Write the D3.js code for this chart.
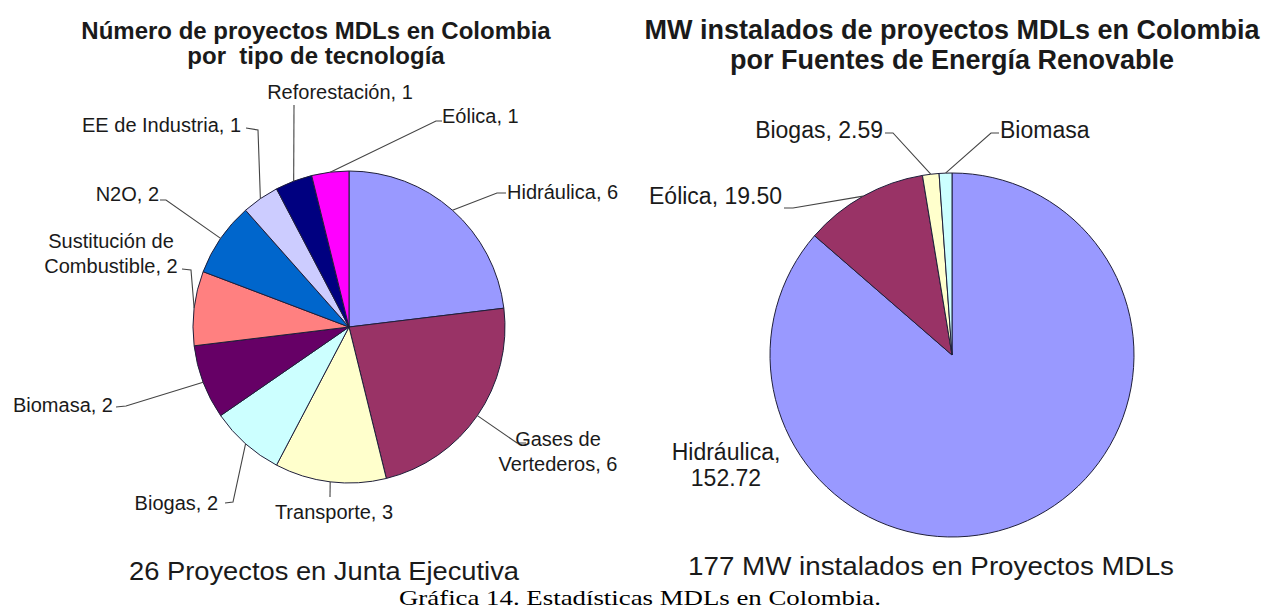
<!DOCTYPE html>
<html>
<head>
<meta charset="utf-8">
<script src="https://cdn.jsdelivr.net/npm/d3@7"></script>
<style>
  body { margin: 0; background: #fff; }
  svg { display: block; }
  text { font-family: "Liberation Sans", Arial, sans-serif; fill: #1a1a1a; white-space: pre; }
</style>
</head>
<body>
<svg id="chart" width="1279" height="609"></svg>
<script>
// Left chart: number of projects per technology
const projCategories = ["Hidráulica", "Gases de Vertederos", "Transporte", "Biogas", "Biomasa",
  "Sustitución de Combustible", "N2O", "EE de Industria", "Reforestación", "Eólica"];
const projValues = [6, 6, 3, 2, 2, 2, 2, 1, 1, 1];
const projColors = ["#9999ff", "#993366", "#ffffcc", "#ccffff", "#660066",
  "#ff8080", "#0066cc", "#ccccff", "#000080", "#ff00ff"];

// Right chart: installed MW by renewable source
const mwCategories = ["Hidráulica", "Eólica", "Biogas", "Biomasa"];
const mwValues = [152.72, 19.50, 2.59, 2.0]; // Biomasa has no printed value, estimated
const mwColors = ["#9999ff", "#993366", "#ffffcc", "#ccffff"];

const projLabels = [["Hidráulica, 6"], ["Gases de", "Vertederos, 6"], ["Transporte, 3"], ["Biogas, 2"],
  ["Biomasa, 2"], ["Sustitución de", "Combustible, 2"], ["N2O, 2"], ["EE de Industria, 1"],
  ["Reforestación, 1"], ["Eólica, 1"]];
const mwLabels = [["Hidráulica,", "152.72"], ["Eólica, 19.50"], ["Biogas, 2.59"], ["Biomasa"]];

const svg = d3.select("#chart");

// label placement (text position + leader knee/end), same order as categories
const projLayout = [
  { x: 507, y: 199, anchor: "start", knee: [497, 193], end: [506, 193] },
  { x: 558, y: 446, anchor: "middle", knee: [517, 443], end: [526, 443] },
  { x: 334, y: 519, anchor: "middle", knee: [330, 497], end: [330, 497] },
  { x: 218, y: 510, anchor: "end", knee: [233, 502], end: [225, 503] },
  { x: 113, y: 412, anchor: "end", knee: [126, 406], end: [116, 407] },
  { x: 111, y: 248, anchor: "middle", knee: [191, 270], end: [182, 269] },
  { x: 159, y: 201, anchor: "end", knee: [166, 200], end: [160, 200] },
  { x: 241, y: 132, anchor: "end", knee: [258, 130], end: [246, 128] },
  { x: 340, y: 99, anchor: "middle", knee: [294, 105], end: [294, 105] },
  { x: 442, y: 123, anchor: "start", knee: [436, 121], end: [442, 121] }
];
const mwLayout = [
  { x: 726, y: 460, anchor: "middle", knee: null, end: null },
  { x: 782, y: 204, anchor: "end", knee: [793, 208], end: [784, 208] },
  { x: 883, y: 138, anchor: "end", knee: [893, 133], end: [885, 133] },
  { x: 1000, y: 138, anchor: "start", knee: [991, 133], end: [999, 133] }
];

function drawPie(opts) {
  const g = svg.append("g").attr("transform", `translate(${opts.cx},${opts.cy})`);

  const pie = d3.pie().value(d => d).sort(null);
  const arcs = pie(opts.values);
  const arc = d3.arc().innerRadius(0).outerRadius(opts.r);

  g.selectAll("path")
    .data(arcs)
    .enter().append("path")
    .attr("d", arc)
    .attr("fill", (d, i) => opts.colors[i])
    .attr("stroke", "#1f1f3a")
    .attr("stroke-width", 1);

  // leader lines + labels
  arcs.forEach((d, i) => {
    const lay = opts.layout[i];
    const mid = (d.startAngle + d.endAngle) / 2;
    const px = opts.cx + opts.r * Math.sin(mid);
    const py = opts.cy - opts.r * Math.cos(mid);
    if (lay.knee) {
      svg.append("path")
        .attr("d", d3.line()([[px, py], lay.knee, lay.end]))
        .attr("fill", "none")
        .attr("stroke", "#444")
        .attr("stroke-width", 1.1);
    }
    const t = svg.append("text")
      .attr("x", lay.x)
      .attr("y", lay.y)
      .attr("text-anchor", lay.anchor)
      .style("font-size", opts.labelSize + "px");
    opts.labels[i].forEach((line, k) => {
      t.append("tspan")
        .attr("x", lay.x)
        .attr("dy", k === 0 ? 0 : opts.lineHeight)
        .text(line);
    });
  });
}

drawPie({ cx: 349, cy: 327, r: 156, values: projValues, colors: projColors,
  labels: projLabels, layout: projLayout, labelSize: 20, lineHeight: 25 });
drawPie({ cx: 952, cy: 355, r: 182, values: mwValues, colors: mwColors,
  labels: mwLabels, layout: mwLayout, labelSize: 23, lineHeight: 26 });

// titles
function title(lines, x, y, size, gap) {
  const t = svg.append("text")
    .attr("x", x).attr("y", y)
    .attr("text-anchor", "middle")
    .style("font-size", size + "px")
    .style("font-weight", "bold");
  lines.forEach((line, k) => {
    t.append("tspan").attr("x", x).attr("dy", k === 0 ? 0 : gap).text(line);
  });
}
title(["Número de proyectos MDLs en Colombia", "por  tipo de tecnología"], 316, 39, 24, 25);
title(["MW instalados de proyectos MDLs en Colombia", "por Fuentes de Energía Renovable"], 952, 39, 27, 30);

// footers (stretched a bit horizontally, like the original)
svg.append("text")
  .attr("x", 324).attr("y", 580)
  .attr("text-anchor", "middle")
  .attr("textLength", 390)
  .attr("lengthAdjust", "spacingAndGlyphs")
  .style("font-size", "25px")
  .text("26 Proyectos en Junta Ejecutiva");
svg.append("text")
  .attr("x", 931).attr("y", 575)
  .attr("text-anchor", "middle")
  .attr("textLength", 486)
  .attr("lengthAdjust", "spacingAndGlyphs")
  .style("font-size", "26px")
  .text("177 MW instalados en Proyectos MDLs");

svg.append("text")
  .attr("x", 640).attr("y", 605)
  .attr("text-anchor", "middle")
  .attr("textLength", 482)
  .attr("lengthAdjust", "spacingAndGlyphs")
  .style("font-family", "'Liberation Serif', 'Times New Roman', serif")
  .style("font-size", "21px")
  .style("fill", "#000")
  .text("Gráfica 14. Estadísticas MDLs en Colombia.");
</script>
</body>
</html>
